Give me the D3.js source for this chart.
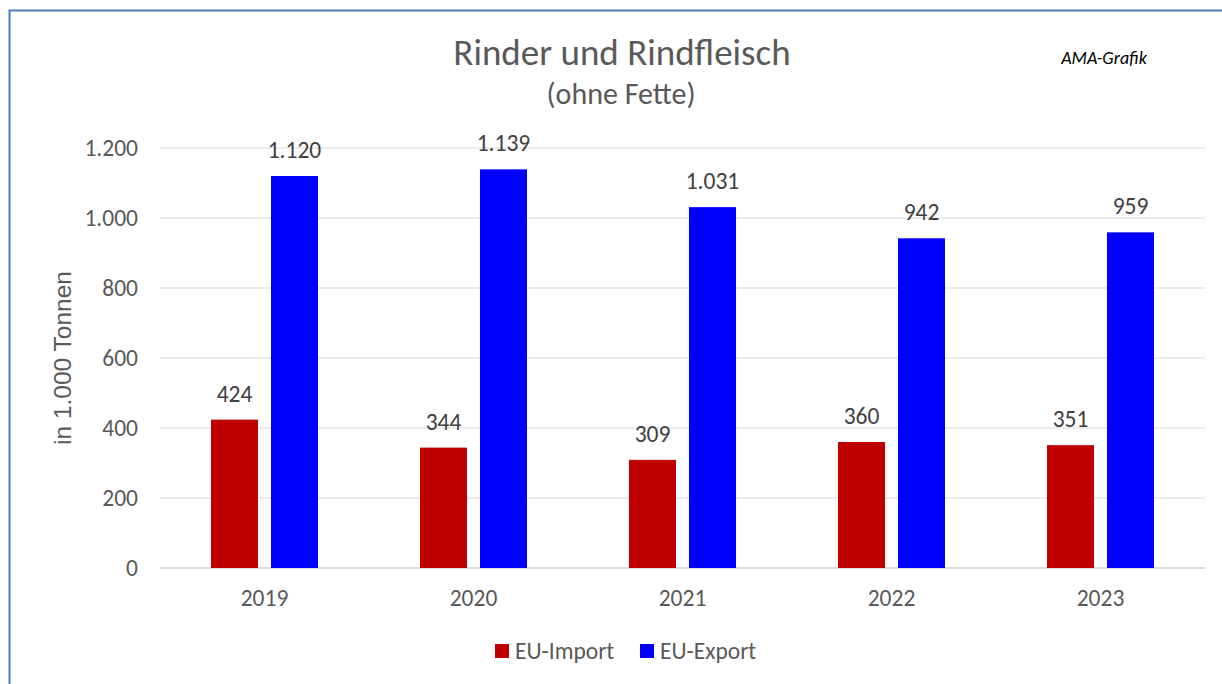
<!DOCTYPE html>
<html>
<head>
<meta charset="utf-8">
<script src="https://cdn.jsdelivr.net/npm/d3@7"></script>
<style>
  body { margin: 0; background: #fff; }
  svg text { font-family: Carlito, "Open Sans", "Liberation Sans", sans-serif; }
</style>
</head>
<body>
<div id="chart"></div>
<script>
const width = 1222, height = 684;

const years = ["2019", "2020", "2021", "2022", "2023"];
const seriesNames = ["EU-Import", "EU-Export"];
const importValues = [424, 344, 309, 360, 351];
const exportValues = [1120, 1139, 1031, 942, 959];
const yTicks = [0, 200, 400, 600, 800, 1000, 1200];
const colors = ["#c00000", "#0000ff"];

const de = d3.formatLocale({decimal: ",", thousands: ".", grouping: [3], currency: ["", " €"]});
const fmt = de.format(",d");

const margin = {top: 148, right: 17, bottom: 116, left: 160};
const innerW = width - margin.left - margin.right;
const innerH = height - margin.top - margin.bottom;

const svg = d3.select("#chart").append("svg")
    .attr("width", width)
    .attr("height", height);

// frame
svg.append("path")
    .attr("d", `M9.5,${height} V10.5 H${width}`)
    .attr("fill", "none")
    .attr("stroke", "#4a7ebb")
    .attr("stroke-width", 2);

const g = svg.append("g").attr("transform", `translate(${margin.left},${margin.top})`);

const x = d3.scaleBand().domain(years).range([0, innerW]).paddingInner(0).paddingOuter(0);
const y = d3.scaleLinear().domain([0, 1200]).range([innerH, 0]);

// gridlines
g.selectAll(".grid")
    .data(yTicks)
    .enter().append("line")
    .attr("x1", 0).attr("x2", innerW)
    .attr("y1", d => y(d)).attr("y2", d => y(d))
    .attr("stroke", d => d === 0 ? "#d0d0d0" : "#d9d9d9")
    .attr("stroke-width", d => d === 0 ? 1.5 : 1);

// y tick labels
g.selectAll(".ytick")
    .data(yTicks)
    .enter().append("text")
    .attr("x", -22)
    .attr("y", d => y(d))
    .attr("dy", "0.35em")
    .attr("text-anchor", "end")
    .attr("fill", "#595959")
    .style("font-size", "23.5px")
    .text(d => fmt(d));

// x labels
g.selectAll(".xtick")
    .data(years)
    .enter().append("text")
    .attr("x", d => x(d) + x.bandwidth() / 2)
    .attr("y", innerH + 38)
    .attr("text-anchor", "middle")
    .attr("fill", "#595959")
    .style("font-size", "23.5px")
    .text(d => d);

const barW = 47, gap = 13;
const x1 = d3.scaleOrdinal().domain(seriesNames).range([-(gap / 2 + barW), gap / 2]);

const data = [];
years.forEach((yr, i) => {
  data.push({year: yr, s: seriesNames[0], v: importValues[i], c: colors[0]});
  data.push({year: yr, s: seriesNames[1], v: exportValues[i], c: colors[1]});
});

g.selectAll(".bar")
    .data(data)
    .enter().append("rect")
    .attr("x", d => x(d.year) + x.bandwidth() / 2 + x1(d.s))
    .attr("y", d => y(d.v))
    .attr("width", barW)
    .attr("height", d => innerH - y(d.v))
    .attr("fill", d => d.c);

g.selectAll(".val")
    .data(data)
    .enter().append("text")
    .attr("x", d => x(d.year) + x.bandwidth() / 2 + x1(d.s) + barW / 2)
    .attr("y", d => y(d.v) - 18)
    .attr("text-anchor", "middle")
    .attr("fill", "#404040")
    .style("font-size", "23.5px")
    .text(d => fmt(d.v));

// axis title
svg.append("text")
    .attr("transform", `translate(71,${margin.top + innerH / 2}) rotate(-90)`)
    .attr("text-anchor", "middle")
    .attr("fill", "#595959")
    .style("font-family", "'Liberation Sans', Arial, sans-serif")
    .style("font-size", "24.5px")
    .text("in 1.000 Tonnen");

// titles
svg.append("text")
    .attr("x", 622).attr("y", 65)
    .attr("text-anchor", "middle")
    .attr("fill", "#595959")
    .style("font-size", "37px")
    .text("Rinder und Rindfleisch");
svg.append("text")
    .attr("x", 621).attr("y", 104)
    .attr("text-anchor", "middle")
    .attr("fill", "#595959")
    .style("font-size", "30px")
    .text("(ohne Fette)");
svg.append("text")
    .attr("x", 1104).attr("y", 64)
    .attr("text-anchor", "middle")
    .attr("fill", "#000")
    .style("font-size", "18px")
    .style("font-style", "italic")
    .text("AMA-Grafik");

// legend
const legend = svg.append("g").attr("transform", "translate(495,644)");
const legX = [0, 145];
seriesNames.forEach((s, i) => {
  const lg = legend.append("g").attr("transform", `translate(${legX[i]},0)`);
  lg.append("rect").attr("width", 14).attr("height", 14).attr("fill", colors[i]);
  lg.append("text")
      .attr("x", 20).attr("y", 7).attr("dy", "0.35em")
      .attr("fill", "#595959")
      .style("font-size", "23.5px")
      .text(s);
});
</script>
</body>
</html>
